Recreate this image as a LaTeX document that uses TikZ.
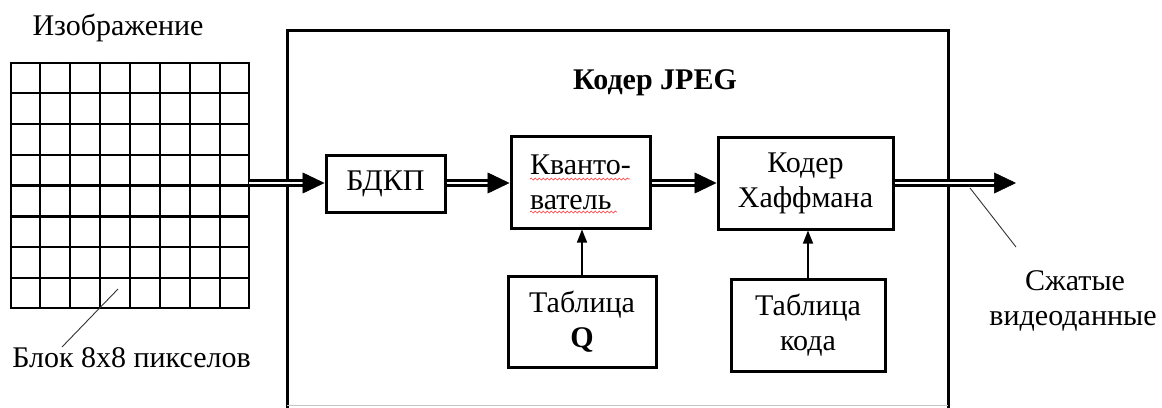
\documentclass[tikz,border=0pt]{standalone}
\usepackage{fontspec}
\setmainfont{Liberation Serif}
\usetikzlibrary{arrows.meta,decorations.pathmorphing,calc}
\tikzset{
  blk/.style={draw, line width=3pt, rectangle, inner sep=0pt, font=\fontsize{30}{35}\selectfont, align=center},
  dbl/.style={draw, double, double distance=2.6pt, line width=2.3pt},
  bigtip/.style={-{Triangle[length=22pt,width=21pt]}, line width=0.5pt},
  smalltip/.style={-{Triangle[length=13pt,width=10pt]}, line width=1.5pt},
  leader/.style={line width=0.9pt, draw=black!80},
  lbl/.style={font=\fontsize{30}{35}\selectfont, align=center, inner sep=0pt},
  gridln/.style={line width=2.2pt},
  spell/.style={draw=red!75, line width=0.7pt, decorate, decoration={snake, segment length=4pt, amplitude=1pt}}
}
\begin{document}
\begin{tikzpicture}[x=1pt,y=-1pt]
\useasboundingbox (0,0) rectangle (1162,407);
% pixel grid
\node[draw, line width=2.2pt, minimum width=238pt, minimum height=245pt, inner sep=0pt] (grid) at (130,185.5) {};
\foreach \i in {1,...,7} {
  \draw[gridln] ($(grid.north west)!\i/8!(grid.north east)$) -- ($(grid.south west)!\i/8!(grid.south east)$);
  \draw[gridln] ($(grid.north west)!\i/8!(grid.south west)$) -- ($(grid.north east)!\i/8!(grid.south east)$);
}
\node[lbl, anchor=base] (img) at (118,35) {Изображение};
\node[lbl, anchor=base] (blocklbl) at (131.5,367) {Блок 8x8 пикселов};
\coordinate (cellpt) at (118,289);
\draw[leader] (62,347) coordinate (blocklead) -- (cellpt);

% encoder frame
\draw[line width=3pt] (287,412) |- (948,30) -- (948,412);
\draw[gray!45, line width=1pt] (287,405) -- (948,405);
\node[lbl, font=\fontsize{30}{35}\selectfont\bfseries, anchor=base] (title) at (655,89) {Кодер JPEG};

% blocks
\node[blk, minimum width=119pt, minimum height=57pt] (dct) at (385.5,183.5) {БДКП};
\node[blk, minimum width=139pt, minimum height=92pt, align=left] (quant) at (580.5,182) {Кванто-\\ватель};
\node[blk, minimum width=175pt, minimum height=92pt] (huff) at (805.5,183) {Кодер\\Хаффмана};
\node[blk, minimum width=148pt, minimum height=91pt] (tq) at (582,321.5) {Таблица\\\textbf{Q}};
\node[blk, minimum width=154pt, minimum height=92pt] (tc) at (808,325) {Таблица\\кода};

% spell-check underlines
\draw[spell] ($(quant.center)+(-50.5,-3)$) -- ($(quant.center)+(49.5,-3)$);
\draw[spell] ($(quant.center)+(-50.5,30)$) -- ($(quant.center)+(36.5,30)$);

% main double arrows
\coordinate (gridout) at (249,183);
\coordinate (out) at (1016,183);
\draw[dbl, shorten >=21pt] (gridout) -- (gridout -| dct.west);
\draw[bigtip] ([xshift=-22pt]gridout -| dct.west) -- (gridout -| dct.west);
\draw[dbl, shorten >=21pt] (dct.east |- gridout) -- (gridout -| quant.west);
\draw[bigtip] ([xshift=-22pt]gridout -| quant.west) -- (gridout -| quant.west);
\draw[dbl, shorten >=21pt] (quant.east |- gridout) -- (gridout -| huff.west);
\draw[bigtip] ([xshift=-22pt]gridout -| huff.west) -- (gridout -| huff.west);
\draw[dbl, shorten >=21pt] (huff.east |- out) -- (out);
\draw[bigtip] ([xshift=-22pt]out) -- (out);

% table arrows
\draw[smalltip] (tq.north) -- (tq.north |- quant.south);
\draw[smalltip] (tc.north) -- (tc.north |- huff.south);

% output label
\node[lbl, anchor=base] (outlbl1) at (1075,290) {Сжатые};
\node[lbl, anchor=base] (outlbl2) at (1073,325) {видеоданные};
\coordinate (outlead) at (1016,247);
\draw[leader] (970,188) coordinate (outpt) -- (outlead);
\end{tikzpicture}
\end{document}
